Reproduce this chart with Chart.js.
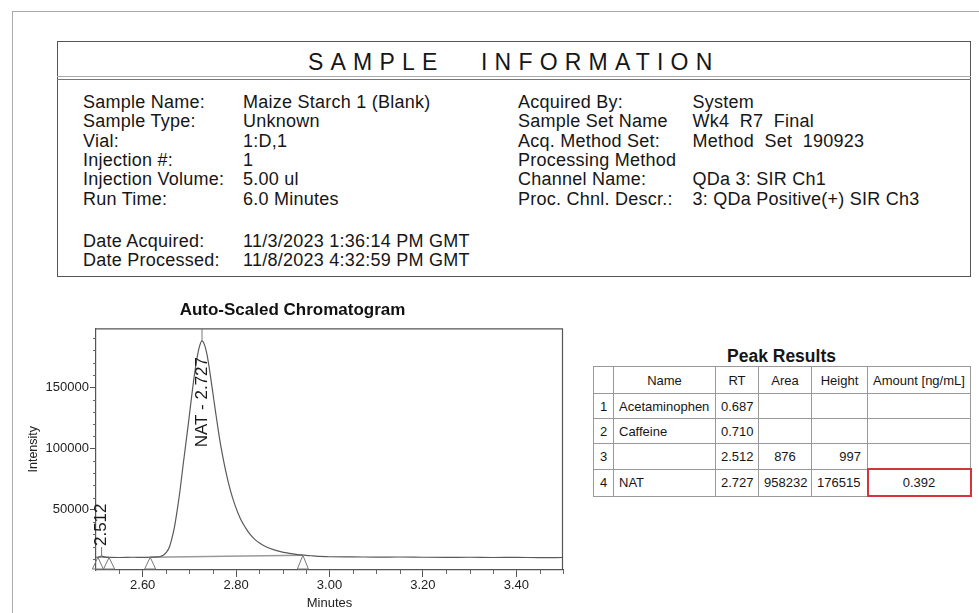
<!DOCTYPE html>
<html>
<head>
<meta charset="utf-8">
<script src="https://cdn.jsdelivr.net/npm/chart.js@4"></script>
<style>
  body { margin: 0; width: 979px; height: 613px; overflow: hidden; background: #fff; position: relative;
         font-family: Arial, "Liberation Sans", sans-serif; color: #161616; }
  .frame { position: absolute; left: 12px; top: 11px; width: 1100px; height: 800px; border: 1px solid #aaa; }
  .info { position: absolute; left: 57px; top: 41px; width: 914px; height: 236px; box-sizing: border-box;
          border: 1.5px solid #555; }
  .hline { position: absolute; left: 57px; width: 914px; height: 0; }
  .head { position: absolute; top: 51px; font-size: 23px; line-height: 23px; letter-spacing: 7.2px; }
  .txt { position: absolute; font-size: 18px; line-height: 19px; letter-spacing: 0.25px; white-space: pre; }
  #chartBox { position: absolute; left: 0; top: 290px; width: 580px; height: 323px; }
  .ptitle { position: absolute; left: 593px; width: 377px; top: 346px; text-align: center;
            font-weight: bold; font-size: 17.5px; line-height: 20px; }
  table { position: absolute; left: 593px; top: 366px; width: 377px; border-collapse: collapse;
          table-layout: fixed; font-size: 13px; }
  td { border: 1px solid #999; padding: 0 5px; height: 24px; white-space: nowrap; overflow: visible; }
  tr.hd td { height: 26px; text-align: center; }
  td.c { text-align: center; }
  td.r { text-align: right; padding-right: 6px; }
  td.red { border: 2px solid #d6343c; }
</style>
</head>
<body>
<div class="frame"></div>
<div class="info"></div>
<div class="hline" style="top:76px;border-top:1px solid #aaa"></div>
<div class="hline" style="top:79px;border-top:1.5px solid #777"></div>
<div class="head" style="left:308px">SAMPLE</div>
<div class="head" style="left:481px">INFORMATION</div>
<div id="info"></div>

<div id="chartBox"><canvas id="chromChart"></canvas></div>

<div class="ptitle">Peak Results</div>
<table id="peaks">
  <colgroup>
    <col style="width:20px"><col style="width:102px"><col style="width:43px">
    <col style="width:53px"><col style="width:56px"><col style="width:103px">
  </colgroup>
</table>

<script>
// sample information block
const leftLabels = ["Sample Name:", "Sample Type:", "Vial:", "Injection #:", "Injection Volume:", "Run Time:"];
const leftValues = ["Maize Starch 1 (Blank)", "Unknown", "1:D,1", "1", "5.00 ul", "6.0 Minutes"];
const rightLabels = ["Acquired By:", "Sample Set Name", "Acq. Method Set:", "Processing Method", "Channel Name:", "Proc. Chnl. Descr.:"];
const rightValues = ["System", "Wk4  R7  Final", "Method  Set  190923", "", "QDa 3: SIR Ch1", "3: QDa Positive(+) SIR Ch3"];
const dateLabels = ["Date Acquired:", "Date Processed:"];
const dateValues = ["11/3/2023 1:36:14 PM GMT", "11/8/2023 4:32:59 PM GMT"];

// chromatogram trace (minutes, intensity)
const rtMinutes = [2.500, 2.505, 2.509, 2.512, 2.515, 2.520, 2.530, 2.550, 2.580, 2.600, 2.620, 2.630,
  2.637, 2.644, 2.651, 2.657, 2.662, 2.668, 2.674, 2.680, 2.686, 2.692, 2.698, 2.704, 2.710, 2.716,
  2.721, 2.727, 2.732, 2.738, 2.744, 2.750, 2.756, 2.762, 2.768, 2.777, 2.787, 2.798, 2.809, 2.820,
  2.830, 2.840, 2.851, 2.865, 2.880, 2.895, 2.909, 2.925, 2.937, 2.950, 2.965, 2.980, 3.000, 3.050,
  3.100, 3.150, 3.200, 3.250, 3.300, 3.350, 3.400, 3.450, 3.500];
const intensity = [11400, 11500, 12000, 12400, 12000, 11500, 11300, 11200, 11400, 11300, 11500, 11700,
  12000, 13000, 15500, 19500, 26000, 36000, 50000, 66000, 85000, 103000, 121000, 140000, 158000, 173000,
  182500, 187800, 185000, 176000, 162000, 146000, 130000, 114500, 100500, 83000, 67000, 53500, 43000, 35500,
  30000, 26000, 22800, 19800, 17600, 16000, 14900, 14000, 13400, 12900, 12500, 12100, 11800, 11700,
  11500, 11600, 11400, 11300, 11400, 11200, 11300, 11100, 11200];

// integration start/end markers and baseline levels
const markerRT = [2.504, 2.528, 2.616, 2.943];
const markerLevel = [11400, 11300, 11400, 13000];
// detected peaks
const peakRT = [2.512, 2.727];
const peakApex = [12400, 187800];
const peakLabels = ["2.512", "NAT - 2.727"];

const xTickValues = [2.60, 2.80, 3.00, 3.20, 3.40];
const yTickValues = [50000, 100000, 150000];

// peak results table
const peakNo = ["1", "2", "3", "4"];
const peakName = ["Acetaminophen", "Caffeine", "", "NAT"];
const peakRTs = ["0.687", "0.710", "2.512", "2.727"];
const peakArea = ["", "", "876", "958232"];
const peakHeight = ["", "", "997", "176515"];
const peakAmount = ["", "", "", "0.392"];

// ---- info text
const infoEl = document.getElementById("info");
function addText(txt, left, top) {
  const d = document.createElement("div");
  d.className = "txt";
  d.style.left = left + "px";
  d.style.top = top + "px";
  d.textContent = txt;
  infoEl.appendChild(d);
}
leftLabels.forEach((t, i) => {
  const top = 93 + i * 19.36;
  addText(t, 83, top);
  addText(leftValues[i], 243, top);
  addText(rightLabels[i], 518, top);
  addText(rightValues[i], 692.5, top);
});
dateLabels.forEach((t, i) => {
  const top = 232 + i * 18.6;
  addText(t, 83, top);
  addText(dateValues[i], 243, top);
});

// ---- table
const tbl = document.getElementById("peaks");
let hd = document.createElement("tr");
hd.className = "hd";
["", "Name", "RT", "Area", "Height", "Amount [ng/mL]"].forEach(h => {
  let td = document.createElement("td");
  td.textContent = h;
  hd.appendChild(td);
});
tbl.appendChild(hd);
peakNo.forEach((n, i) => {
  let tr = document.createElement("tr");
  const cells = [[n, "c"], [peakName[i], ""], [peakRTs[i], ""], [peakArea[i], "c"], [peakHeight[i], "r"], [peakAmount[i], "c"]];
  cells.forEach(([v, cls], j) => {
    let td = document.createElement("td");
    td.textContent = v;
    td.className = cls;
    if (i === 3 && j === 5) td.className += " red";
    if (i === 3) td.style.height = "25px";
    tr.appendChild(td);
  });
  tbl.appendChild(tr);
});

// ---- chart decorations: frame, minor ticks, integration markers, peak labels
const decor = {
  id: "decor",
  afterDraw(chart) {
    const { ctx, chartArea: a } = chart;
    const xs = chart.scales.x, ys = chart.scales.y;
    ctx.save();
    ctx.strokeStyle = "#555";
    ctx.lineWidth = 1.2;
    ctx.beginPath();
    ctx.moveTo(a.left, a.top + 0.5); ctx.lineTo(a.right, a.top + 0.5);
    ctx.moveTo(a.right - 0.5, a.top); ctx.lineTo(a.right - 0.5, a.bottom);
    ctx.stroke();

    // minor ticks
    ctx.lineWidth = 1;
    ctx.strokeStyle = "#666";
    ctx.beginPath();
    for (let v = 2.55; v < xs.max; v += 0.05) {
      const r = Math.round(v * 100) / 100;
      if (Math.abs(r * 5 - Math.round(r * 5)) < 1e-6) continue;
      const px = Math.round(xs.getPixelForValue(r)) + 0.5;
      ctx.moveTo(px, a.bottom); ctx.lineTo(px, a.bottom + 4);
    }
    for (let v = 10000; v < ys.max; v += 10000) {
      if (v % 50000 === 0) continue;
      const py = Math.round(ys.getPixelForValue(v)) + 0.5;
      ctx.moveTo(a.left, py); ctx.lineTo(a.left - 3, py);
    }
    ctx.stroke();

    // integration markers
    ctx.strokeStyle = "#777";
    markerRT.forEach((rt, i) => {
      const px = xs.getPixelForValue(rt);
      const top = ys.getPixelForValue(markerLevel[i]);
      ctx.beginPath();
      ctx.moveTo(px, top);
      ctx.lineTo(px - 5.5, a.bottom - 1);
      ctx.lineTo(px + 5.5, a.bottom - 1);
      ctx.closePath();
      ctx.stroke();
    });

    // peak drop lines and labels
    ctx.fillStyle = "#1a1a1a";
    ctx.font = "17px Arial, 'Liberation Sans'";
    ctx.textBaseline = "middle";
    ctx.textAlign = "left";
    peakRT.forEach((rt, i) => {
      const px = xs.getPixelForValue(rt);
      const apex = ys.getPixelForValue(peakApex[i]);
      ctx.strokeStyle = "#777";
      ctx.beginPath();
      let labelStart;
      if (i === peakRT.length - 1) {
        ctx.moveTo(px, apex); ctx.lineTo(px, a.top);
        labelStart = ys.getPixelForValue(101000);
      } else {
        ctx.moveTo(px, apex); ctx.lineTo(px, apex - 9);
        labelStart = apex - 10;
      }
      ctx.stroke();
      ctx.save();
      ctx.translate(px, labelStart);
      ctx.rotate(-Math.PI / 2);
      ctx.fillText(peakLabels[i], 0, 0);
      ctx.restore();
    });
    ctx.restore();
  }
};

const tickFont = { family: "Arial, 'Liberation Sans'", size: 13 };
new Chart(document.getElementById("chromChart"), {
  type: "line",
  data: {
    datasets: [
      {
        data: rtMinutes.map((x, i) => ({ x, y: intensity[i] })),
        borderColor: "#5a5a5a",
        borderWidth: 1.2,
        pointRadius: 0,
        cubicInterpolationMode: "monotone"
      },
      {
        data: [{ x: markerRT[0], y: markerLevel[0] }, { x: markerRT[1], y: markerLevel[1] }],
        borderColor: "#999",
        borderWidth: 1.5,
        pointRadius: 0
      },
      {
        data: [{ x: markerRT[2], y: markerLevel[2] }, { x: markerRT[3], y: markerLevel[3] }],
        borderColor: "#999",
        borderWidth: 1.5,
        pointRadius: 0
      }
    ]
  },
  options: {
    responsive: true,
    maintainAspectRatio: false,
    animation: false,
    layout: { padding: { left: 22, right: 17, top: 0, bottom: 0 } },
    plugins: {
      legend: { display: false },
      tooltip: { enabled: false },
      title: {
        display: true,
        text: "Auto-Scaled Chromatogram",
        color: "#111",
        font: { family: "Arial, 'Liberation Sans'", size: 17, weight: "bold" },
        padding: { top: 10, bottom: 8 }
      }
    },
    scales: {
      x: {
        type: "linear",
        min: 2.5,
        max: 3.5,
        afterBuildTicks: s => { s.ticks = xTickValues.map(v => ({ value: v })); },
        afterFit: s => { s.height = 43; },
        ticks: { color: "#222", font: tickFont, padding: 1, maxRotation: 0,
                 callback: v => v.toFixed(2) },
        grid: { drawOnChartArea: false, tickLength: 7, color: "#555" },
        border: { color: "#555", width: 1.2 },
        title: { display: true, text: "Minutes", color: "#222", font: tickFont, padding: { top: 0, bottom: 2 } }
      },
      y: {
        min: 1000,
        max: 198000,
        afterBuildTicks: s => { s.ticks = yTickValues.map(v => ({ value: v })); },
        afterFit: s => { s.width = 74; },
        ticks: { color: "#222", font: tickFont, padding: 1, callback: v => String(v) },
        grid: { drawOnChartArea: false, tickLength: 6, color: "#555" },
        border: { color: "#555", width: 1.2 },
        title: { display: true, text: "Intensity", color: "#222",
                 font: { family: "Arial, 'Liberation Sans'", size: 12.5 }, padding: { top: 4, bottom: 0 } }
      }
    }
  },
  plugins: [decor]
});
</script>
</body>
</html>
